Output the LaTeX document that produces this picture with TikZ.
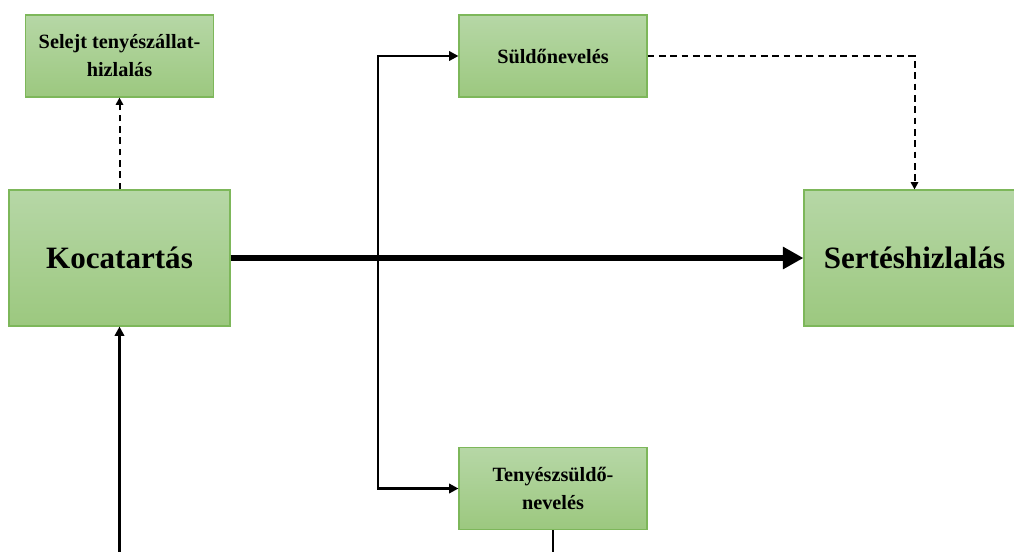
\documentclass[tikz,border=0pt]{standalone}
\usepackage{fontspec}
\setmainfont{Liberation Serif}
\usepackage{tikz}
\usetikzlibrary{positioning, arrows.meta}
\definecolor{boxTop}{HTML}{B6D7A6}
\definecolor{boxBottom}{HTML}{9CC87F}
\definecolor{boxEdge}{HTML}{7DB75A}

\tikzset{
  stage/.style={draw=boxEdge, line width=0.8pt, top color=boxTop, bottom color=boxBottom,
                align=center, inner sep=2pt},
  smallstage/.style={stage, minimum width=141pt, minimum height=61.5pt,
                     font=\bfseries\fontsize{15.2}{21}\selectfont},
  bigstage/.style={stage, minimum width=165.75pt, minimum height=102pt,
                   font=\bfseries\fontsize{23.3}{28}\selectfont},
  flow/.style={line width=2.2pt, -{Triangle[length=7pt,width=7pt]}},
  mainflow/.style={line width=4.3pt, -{Triangle[length=15.5pt,width=16pt]}},
  optflow/.style={line width=1.5pt, dash pattern=on 5pt off 3.5pt,
                  -{Triangle[length=5.5pt,width=5.5pt]}},
}

\begin{document}
\begin{tikzpicture}[x=0.75pt, y=-0.75pt]
  \useasboundingbox (0,0) rectangle (1014,551);

  % stages
  \node[smallstage] (selejt) at (119.5,56) {Selejt tenyészállat-\\hizlalás};
  \node[bigstage] (koca) at (119.5,258) {Kocatartás};
  \node[smallstage] (suldo) at (553,56) {Süldőnevelés};
  \node[bigstage] (hizlal) at (914.5,258) {Sertéshizlalás};
  \node[smallstage] (tenyesz) at (553,488.5) {Tenyészsüldő-\\nevelés};

  % free ends
  \coordinate (split) at (378,258);
  \coordinate (kocain) at (119.5,560);
  \coordinate (tenyeszout) at (553,560);

  % flows
  \draw[optflow] (koca) -- (selejt);
  \draw[flow] (split) |- (suldo);
  \draw[flow] (split) |- (tenyesz);
  \draw[mainflow] (koca) -- (hizlal);
  \draw[optflow] (suldo) -| (hizlal);
  \draw[flow] (kocain) -- (koca);
  \draw[line width=2.2pt] (tenyesz) -- (tenyeszout);
\end{tikzpicture}
\end{document}
